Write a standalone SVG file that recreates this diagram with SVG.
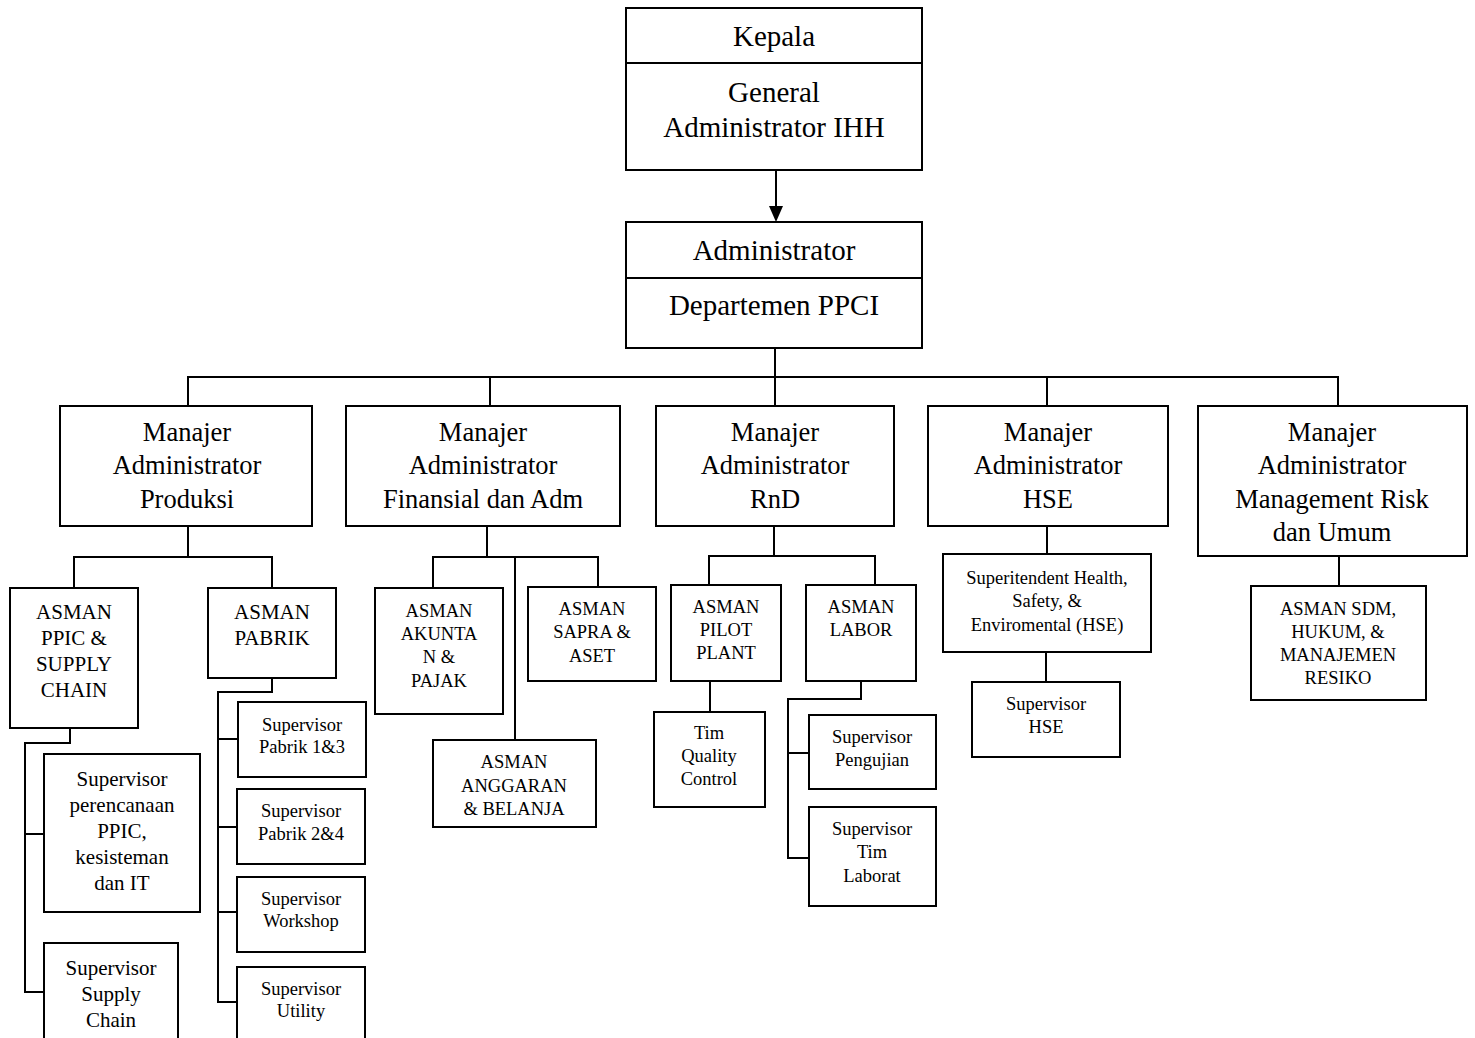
<svg xmlns="http://www.w3.org/2000/svg" width="1475" height="1038" viewBox="0 0 1475 1038">
<style>
rect.b{fill:#fff;stroke:#000;stroke-width:2}
.c line,.c polyline{stroke:#000;stroke-width:2;fill:none}
text{font-family:"Liberation Serif","Times New Roman",serif;fill:#000;text-anchor:middle}
.t1{font-size:29px}
.t2{font-size:26.5px}
.t3{font-size:21px}
.t4{font-size:18.5px}
</style>
<defs>
<marker id="ah" markerWidth="14" markerHeight="15" refX="7" refY="15" orient="auto-start-reverse" markerUnits="userSpaceOnUse" viewBox="0 0 14 15">
<path d="M0,0 L14,0 L7,15 Z" fill="#000"/>
</marker>
</defs>
<rect width="1475" height="1038" fill="#fff"/>

<g class="c" id="connectors">
<line x1="776" y1="170" x2="776" y2="207"/>
<path d="M769,206 L783,206 L776,222 Z" fill="#000"/>
<line x1="775" y1="348" x2="775" y2="377"/>
<line x1="187" y1="377" x2="1339" y2="377"/>
<line x1="188" y1="377" x2="188" y2="406"/>
<line x1="490" y1="377" x2="490" y2="406"/>
<line x1="775" y1="377" x2="775" y2="406"/>
<line x1="1047" y1="377" x2="1047" y2="406"/>
<line x1="1338" y1="377" x2="1338" y2="406"/>
<line x1="188" y1="526" x2="188" y2="557"/>
<polyline points="74,588 74,557 272,557 272,588"/>
<polyline points="70,728 70,743 25,743 25,992 44,992"/>
<line x1="25" y1="834" x2="44" y2="834"/>
<polyline points="272,678 272,692 218,692 218,1002 238,1002"/>
<line x1="218" y1="739" x2="238" y2="739"/>
<line x1="218" y1="827" x2="238" y2="827"/>
<line x1="218" y1="912" x2="238" y2="912"/>
<line x1="487" y1="526" x2="487" y2="557"/>
<polyline points="433,588 433,557 598,557 598,587"/>
<line x1="515" y1="557" x2="515" y2="740"/>
<line x1="774" y1="526" x2="774" y2="556"/>
<polyline points="709,585 709,556 875,556 875,585"/>
<line x1="710" y1="681" x2="710" y2="712"/>
<polyline points="861,681 861,699 788,699 788,858 809,858"/>
<line x1="788" y1="753" x2="809" y2="753"/>
<line x1="1047" y1="526" x2="1047" y2="554"/>
<line x1="1046" y1="652" x2="1046" y2="682"/>
<line x1="1339" y1="556" x2="1339" y2="586"/>
</g>

<g id="kepala">
<rect class="b" x="626" y="8" width="296" height="162"/>
<line x1="626" y1="63" x2="922" y2="63" stroke="#000" stroke-width="2"/>
<text class="t1" x="774" y="46">Kepala</text>
<text class="t1" x="774" y="102">General</text>
<text class="t1" x="774" y="137">Administrator IHH</text>
</g>

<g id="administrator">
<rect class="b" x="626" y="222" width="296" height="126"/>
<line x1="626" y1="278" x2="922" y2="278" stroke="#000" stroke-width="2"/>
<text class="t1" x="774" y="260">Administrator</text>
<text class="t1" x="774" y="315">Departemen PPCI</text>
</g>

<g id="m-produksi">
<rect class="b" x="60" y="406" width="252" height="120"/>
<text class="t2" x="187" y="441">Manajer</text>
<text class="t2" x="187" y="474">Administrator</text>
<text class="t2" x="187" y="508">Produksi</text>
</g>
<g id="m-finansial">
<rect class="b" x="346" y="406" width="274" height="120"/>
<text class="t2" x="483" y="441">Manajer</text>
<text class="t2" x="483" y="474">Administrator</text>
<text class="t2" x="483" y="508">Finansial dan Adm</text>
</g>
<g id="m-rnd">
<rect class="b" x="656" y="406" width="238" height="120"/>
<text class="t2" x="775" y="441">Manajer</text>
<text class="t2" x="775" y="474">Administrator</text>
<text class="t2" x="775" y="508">RnD</text>
</g>
<g id="m-hse">
<rect class="b" x="928" y="406" width="240" height="120"/>
<text class="t2" x="1048" y="441">Manajer</text>
<text class="t2" x="1048" y="474">Administrator</text>
<text class="t2" x="1048" y="508">HSE</text>
</g>
<g id="m-risk">
<rect class="b" x="1198" y="406" width="269" height="150"/>
<text class="t2" x="1332" y="441">Manajer</text>
<text class="t2" x="1332" y="474">Administrator</text>
<text class="t2" x="1332" y="508">Management Risk</text>
<text class="t2" x="1332" y="541">dan Umum</text>
</g>

<g id="asman-ppic">
<rect class="b" x="10" y="588" width="128" height="140"/>
<text class="t3" x="74" y="619">ASMAN</text>
<text class="t3" x="74" y="645">PPIC &amp;</text>
<text class="t3" x="74" y="671">SUPPLY</text>
<text class="t3" x="74" y="697">CHAIN</text>
</g>
<g id="asman-pabrik">
<rect class="b" x="208" y="588" width="128" height="90"/>
<text class="t3" x="272" y="619">ASMAN</text>
<text class="t3" x="272" y="645">PABRIK</text>
</g>
<g id="sup-perencanaan">
<rect class="b" x="44" y="754" width="156" height="158"/>
<text class="t3" x="122" y="786">Supervisor</text>
<text class="t3" x="122" y="812">perencanaan</text>
<text class="t3" x="122" y="838">PPIC,</text>
<text class="t3" x="122" y="864">kesisteman</text>
<text class="t3" x="122" y="890">dan IT</text>
</g>
<g id="sup-supply">
<rect class="b" x="44" y="943" width="134" height="110"/>
<text class="t3" x="111" y="975">Supervisor</text>
<text class="t3" x="111" y="1001">Supply</text>
<text class="t3" x="111" y="1027">Chain</text>
</g>
<g id="sup-pabrik13">
<rect class="b" x="238" y="702" width="128" height="75"/>
<text class="t4" x="302" y="731">Supervisor</text>
<text class="t4" x="302" y="753">Pabrik 1&amp;3</text>
</g>
<g id="sup-pabrik24">
<rect class="b" x="237" y="789" width="128" height="75"/>
<text class="t4" x="301" y="817">Supervisor</text>
<text class="t4" x="301" y="840">Pabrik 2&amp;4</text>
</g>
<g id="sup-workshop">
<rect class="b" x="237" y="877" width="128" height="75"/>
<text class="t4" x="301" y="905">Supervisor</text>
<text class="t4" x="301" y="927">Workshop</text>
</g>
<g id="sup-utility">
<rect class="b" x="237" y="967" width="128" height="85"/>
<text class="t4" x="301" y="995">Supervisor</text>
<text class="t4" x="301" y="1017">Utility</text>
</g>

<g id="asman-akuntan">
<rect class="b" x="375" y="588" width="128" height="126"/>
<text class="t4" x="439" y="617">ASMAN</text>
<text class="t4" x="439" y="640">AKUNTA</text>
<text class="t4" x="439" y="663">N &amp;</text>
<text class="t4" x="439" y="687">PAJAK</text>
</g>
<g id="asman-sapra">
<rect class="b" x="528" y="587" width="128" height="94"/>
<text class="t4" x="592" y="615">ASMAN</text>
<text class="t4" x="592" y="638">SAPRA &amp;</text>
<text class="t4" x="592" y="662">ASET</text>
</g>
<g id="asman-anggaran">
<rect class="b" x="433" y="740" width="163" height="87"/>
<text class="t4" x="514" y="768">ASMAN</text>
<text class="t4" x="514" y="792">ANGGARAN</text>
<text class="t4" x="514" y="815">&amp; BELANJA</text>
</g>

<g id="asman-pilot">
<rect class="b" x="671" y="585" width="110" height="96"/>
<text class="t4" x="726" y="613">ASMAN</text>
<text class="t4" x="726" y="636">PILOT</text>
<text class="t4" x="726" y="659">PLANT</text>
</g>
<g id="asman-labor">
<rect class="b" x="806" y="585" width="110" height="96"/>
<text class="t4" x="861" y="613">ASMAN</text>
<text class="t4" x="861" y="636">LABOR</text>
</g>
<g id="tim-qc">
<rect class="b" x="654" y="712" width="111" height="95"/>
<text class="t4" x="709" y="739">Tim</text>
<text class="t4" x="709" y="762">Quality</text>
<text class="t4" x="709" y="785">Control</text>
</g>
<g id="sup-pengujian">
<rect class="b" x="809" y="715" width="127" height="74"/>
<text class="t4" x="872" y="743">Supervisor</text>
<text class="t4" x="872" y="766">Pengujian</text>
</g>
<g id="sup-laborat">
<rect class="b" x="809" y="807" width="127" height="99"/>
<text class="t4" x="872" y="835">Supervisor</text>
<text class="t4" x="872" y="858">Tim</text>
<text class="t4" x="872" y="882">Laborat</text>
</g>

<g id="superintendent-hse">
<rect class="b" x="943" y="554" width="208" height="98"/>
<text class="t4" x="1047" y="584">Superitendent Health,</text>
<text class="t4" x="1047" y="607">Safety, &amp;</text>
<text class="t4" x="1047" y="631">Enviromental (HSE)</text>
</g>
<g id="sup-hse">
<rect class="b" x="972" y="682" width="148" height="75"/>
<text class="t4" x="1046" y="710">Supervisor</text>
<text class="t4" x="1046" y="733">HSE</text>
</g>

<g id="asman-sdm">
<rect class="b" x="1251" y="586" width="175" height="114"/>
<text class="t4" x="1338" y="615">ASMAN SDM,</text>
<text class="t4" x="1338" y="638">HUKUM, &amp;</text>
<text class="t4" x="1338" y="661">MANAJEMEN</text>
<text class="t4" x="1338" y="684">RESIKO</text>
</g>
</svg>
